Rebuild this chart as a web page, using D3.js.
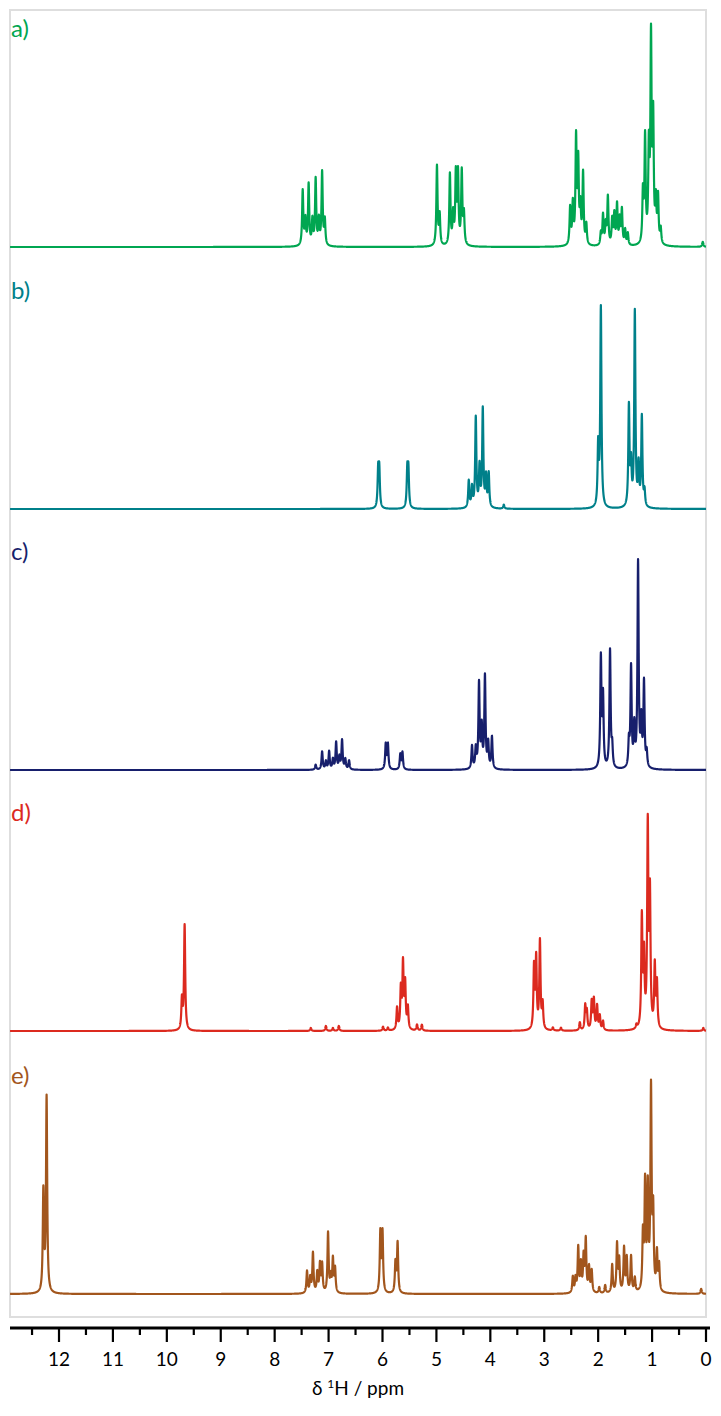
<!DOCTYPE html>
<html><head><meta charset="utf-8">
<script src="https://cdn.jsdelivr.net/npm/d3@7"></script>
<style>body{margin:0;background:#fff}</style></head>
<body><svg id="c" width="721" height="1416"></svg>
<script>
// Peak lists [ppm, intensity]
const labels = ["a)", "b)", "c)", "d)", "e)"];
const colors = ["#00a651", "#00808a", "#171f6c", "#dc2a1f", "#a2561d"];
const peaksA = [[7.48,55],[7.43,25],[7.37,61],[7.30,25],[7.24,66],[7.18,25],[7.12,73],[7.07,25],
  [4.99,80],[4.94,30],[4.75,71],[4.69,30],[4.64,70],[4.60,70],[4.53,73],[4.49,30],
  [2.52,37],[2.47,40],[2.41,105],[2.37,80],[2.33,35],[2.28,71],[2.22,20],
  [1.95,12],[1.91,30],[1.86,20],[1.82,48],[1.74,25],[1.70,30],[1.65,40],[1.60,25],[1.56,35],[1.50,15],[1.45,12],
  [1.17,50],[1.13,105],[1.06,90],[1.02,200],[0.98,120],[0.93,40],[0.89,46],[0.84,15],[0.06,5]];
const peaksB = [[6.08,36],[6.06,36],[5.54,36],[5.52,36],
  [4.40,27],[4.34,20],[4.27,90],[4.20,40],[4.14,98],[4.08,30],[4.03,34],[3.75,4],
  [2.00,60],[1.95,200],[1.43,100],[1.39,40],[1.32,195],[1.25,40],[1.19,90],[1.14,15]];
const peaksC = [[7.24,5],[7.12,18],[7.05,8],[6.99,18],[6.92,10],[6.86,27],[6.80,12],[6.75,29],[6.69,10],[6.62,9],
  [5.94,25],[5.90,25],[5.67,15],[5.63,17],
  [4.34,23],[4.27,20],[4.21,85],[4.16,40],[4.10,92],[4.04,25],[3.97,32],
  [1.95,110],[1.91,70],[1.78,118],[1.74,20],
  [1.43,25],[1.39,100],[1.33,40],[1.26,205],[1.20,45],[1.15,85],[1.10,15]];
const peaksD = [[9.72,30],[9.67,105],[7.33,3],[7.05,5],[6.92,3],[6.81,5],
  [5.99,4],[5.90,3],[5.73,22],[5.66,40],[5.62,65],[5.58,45],[5.53,22],[5.36,6],[5.27,6],
  [3.19,62],[3.15,70],[3.08,88],[3.03,25],[2.84,3],[2.69,3],
  [2.34,8],[2.24,24],[2.21,18],[2.12,28],[2.08,30],[2.02,24],[1.97,14],[1.91,9],
  [1.29,4],[1.19,110],[1.15,70],[1.08,200],[1.04,130],[0.95,62],[0.91,45],[0.05,3]];
const peaksE = [[12.29,100],[12.23,195],
  [7.40,22],[7.34,15],[7.29,40],[7.21,20],[7.16,28],[7.12,28],[7.01,60],[6.96,15],[6.92,33],[6.88,24],
  [6.04,60],[6.00,60],[5.76,30],[5.72,50],
  [2.47,16],[2.42,14],[2.37,45],[2.32,28],[2.27,35],[2.23,52],[2.17,25],[2.12,22],[1.98,6],[1.87,8],
  [1.74,28],[1.65,48],[1.61,32],[1.52,44],[1.47,34],[1.39,36],[1.32,14],
  [1.17,55],[1.13,105],[1.08,100],[1.02,200],[0.98,75],[0.91,38],[0.87,26],[0.09,5]];
const spectra = [peaksA, peaksB, peaksC, peaksD, peaksE];
const baselines = [247, 509, 770, 1031, 1294];
const xTicks = d3.range(0, 13, 1);
const xMinor = d3.range(0.5, 12.6, 1);

const svg = d3.select("#c");
const x = d3.scaleLinear().domain([0, 12]).range([706, 59]);
const xMax = x.invert(10), xMin = x.invert(706);
const gamma = 0.013;
const grid = d3.range(xMin, xMax, 0.002);

svg.append("rect").attr("x", 10).attr("y", 10).attr("width", 696).attr("height", 1307)
  .attr("fill", "none").attr("stroke", "#dedede").attr("stroke-width", 2);

spectra.forEach((pk, i) => {
  const y = d3.scaleLinear().domain([0, 216]).range([baselines[i], baselines[i] - 216]);
  const pts = grid.map(p => [p, d3.sum(pk, q => q[1] / (1 + ((p - q[0]) / gamma) ** 2))]);
  svg.append("path").datum(pts)
    .attr("d", d3.line().x(d => x(d[0])).y(d => y(Math.min(d[1], 230))))
    .attr("fill", "none").attr("stroke", colors[i]).attr("stroke-width", 2.2).attr("stroke-linejoin", "round");
  svg.append("text").attr("x", 11).attr("y", baselines[i] - 210).text(labels[i])
    .attr("fill", colors[i]).attr("font-family", "Lato, sans-serif").attr("font-size", 24);
});

const ax = svg.append("g").attr("transform", "translate(0,1328)");
ax.append("line").attr("x1", 10).attr("x2", 710).attr("stroke", "#000").attr("stroke-width", 3);
ax.selectAll(".mj").data(xTicks).join("line").attr("x1", d => x(d)).attr("x2", d => x(d))
  .attr("y1", 0).attr("y2", 14).attr("stroke", "#000").attr("stroke-width", 2.2);
ax.selectAll(".mn").data(xMinor).join("line").attr("x1", d => x(d)).attr("x2", d => x(d))
  .attr("y1", 0).attr("y2", 7).attr("stroke", "#000").attr("stroke-width", 2.2);
ax.selectAll("text").data(xTicks).join("text").attr("x", d => x(d)).attr("y", 38)
  .attr("text-anchor", "middle").text(d => d)
  .attr("font-family", "Lato, sans-serif").attr("font-size", 19);
svg.append("text").attr("x", 358).attr("y", 1395).attr("text-anchor", "middle")
  .attr("font-family", "Lato, sans-serif").attr("font-size", 19)
  .html('δ <tspan dy="-7" font-size="12">1</tspan><tspan dy="7">H / ppm</tspan>');
</script></body></html>
